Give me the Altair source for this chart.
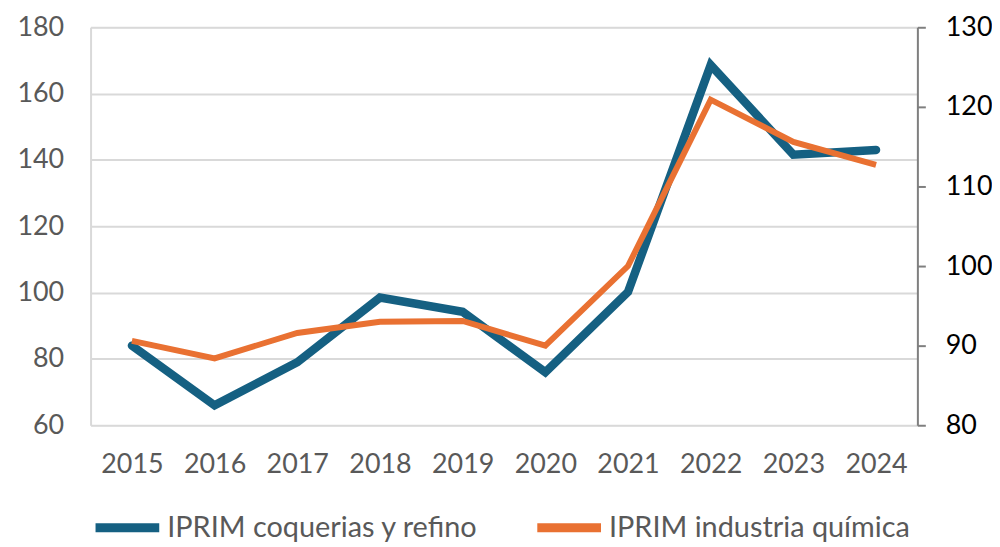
import altair as alt
import pandas as pd

years = ["2015", "2016", "2017", "2018", "2019", "2020", "2021", "2022", "2023", "2024"]
coquerias = [84.0, 66.0, 79.0, 98.5, 94.2, 76.0, 100.2, 168.6, 141.6, 143.0]
quimica = [90.6, 88.4, 91.6, 93.0, 93.1, 90.0, 100.0, 120.9, 115.6, 112.7]
series_names = ["IPRIM coquerias y refino", "IPRIM industria química"]
colors = ["#156082", "#E97132"]
left_ticks = [60, 80, 100, 120, 140, 160, 180]
right_ticks = [80, 90, 100, 110, 120, 130]

df = pd.concat([
    pd.DataFrame({"year": years, "value": coquerias, "series": series_names[0]}),
    pd.DataFrame({"year": years, "value": quimica, "series": series_names[1]}),
])

FONT = "Lato"

x_enc = alt.X("year:O", scale=alt.Scale(type="point", padding=0.5),
              axis=alt.Axis(title=None, labelAngle=0, ticks=False, domain=False,
                            labelFontSize=27, labelColor="#595959", labelPadding=26,
                            labelFont=FONT))
color_enc = alt.Color("series:N",
                      scale=alt.Scale(domain=series_names, range=colors),
                      legend=alt.Legend(orient="bottom", title=None, direction="horizontal",
                                        symbolType="stroke", symbolSize=4100,
                                        symbolStrokeWidth=9, labelFontSize=29,
                                        labelColor="#595959", labelFont=FONT,
                                        columnPadding=40, labelOffset=3, offset=14,
                                        labelLimit=500))

base = alt.Chart(df)

left = base.transform_filter(alt.datum.series == series_names[0]).mark_line(
    strokeWidth=8.5, strokeCap="round", strokeJoin="miter"
).encode(
    x=x_enc,
    y=alt.Y("value:Q", scale=alt.Scale(domain=[60, 180], nice=False, zero=False),
            axis=alt.Axis(title=None, values=left_ticks, ticks=False, domain=True,
                          domainColor="#d9d9d9", domainWidth=2, grid=True,
                          gridColor="#d9d9d9", gridWidth=2, labelFontSize=27,
                          labelColor="#595959", labelPadding=27, labelFont=FONT)),
    color=color_enc,
)

right = base.transform_filter(alt.datum.series == series_names[1]).mark_line(
    strokeWidth=6, strokeCap="butt", strokeJoin="miter"
).encode(
    x=x_enc,
    y=alt.Y("value:Q", scale=alt.Scale(domain=[80, 130], nice=False, zero=False),
            axis=alt.Axis(title=None, orient="right", values=right_ticks, ticks=True,
                          tickSize=8, tickColor="#7f7f7f", tickWidth=2, domain=True,
                          domainColor="#7f7f7f", domainWidth=2, grid=False,
                          labelFontSize=27, labelColor="#000000", labelPadding=20,
                          labelFont=FONT)),
    color=color_enc,
)

chart = alt.layer(left, right).resolve_scale(y="independent").properties(
    width=831, height=400,
    padding={"left": 9, "top": 4, "right": 0, "bottom": 0},
).configure_view(stroke=None).configure(background="white")

chart.save("out.html", embed_options={"renderer": "svg", "actions": False})
